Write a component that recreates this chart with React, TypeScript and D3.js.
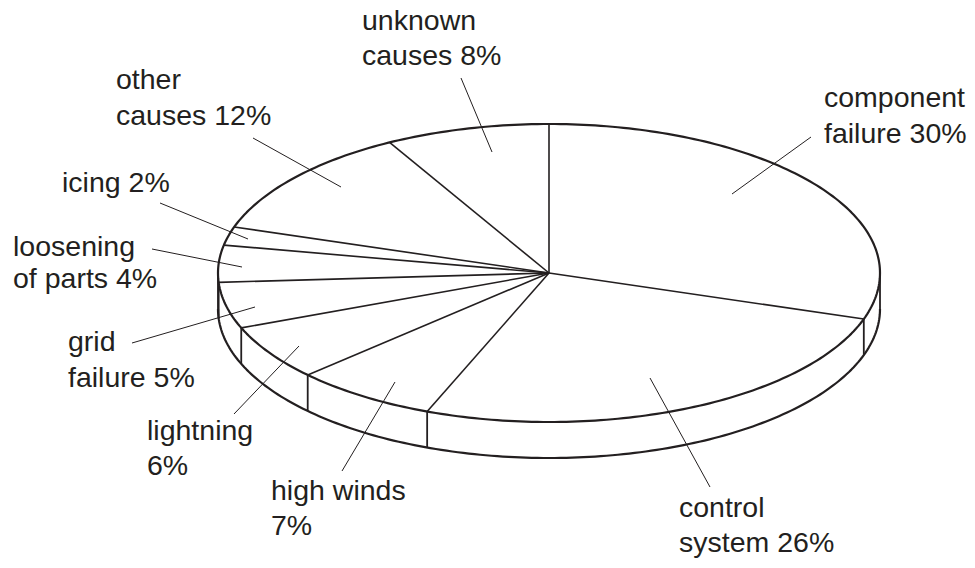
import React from "react";
import * as d3 from "d3";

// failure causes, clockwise from 12 o'clock
const causes = [
  "component failure",
  "control system",
  "high winds",
  "lightning",
  "grid failure",
  "loosening of parts",
  "icing",
  "other causes",
  "unknown causes",
];
const shares = [30, 26, 7, 6, 5, 4, 2, 12, 8];
const labelLines = [
  ["component", "failure 30%"],
  ["control", "system 26%"],
  ["high winds", "7%"],
  ["lightning", "6%"],
  ["grid", "failure 5%"],
  ["loosening", "of parts 4%"],
  ["icing 2%"],
  ["other", "causes 12%"],
  ["unknown", "causes 8%"],
];

// label layout: text x, baselines, leader line [x1, y1, x2, y2]
const labelLayout = [
  { x: 824, ys: [107, 143], leader: [811, 137, 732, 194] },
  { x: 679, ys: [517, 552], leader: [710, 487, 650, 378] },
  { x: 271, ys: [500, 535], leader: [342, 471, 395, 382] },
  { x: 147, ys: [440, 475], leader: [234, 414, 299, 346] },
  { x: 68, ys: [351, 387], leader: [132, 343, 255, 307] },
  { x: 13, ys: [256, 288], leader: [152, 249, 242, 267] },
  { x: 62, ys: [192], leader: [160, 203, 248, 239] },
  { x: 116, ys: [89, 125], leader: [253, 138, 341, 187] },
  { x: 362, ys: [30, 65], leader: [461, 78, 492, 152] },
];

const W = 975;
const H = 568;
const ink = "#231f20";

export default function App() {
  const cx = 549;
  const cy = 273;
  const rx = 331;
  const ry = 149;
  const depth = 36;

  const px = (a: number) => cx + rx * Math.sin(a);
  const py = (a: number) => cy - ry * Math.cos(a);

  const arcs = d3
    .pie<number>()
    .sort(null)
    .startAngle(0)
    .endAngle(2 * Math.PI)(shares);

  const boundaries = arcs.map((a) => a.startAngle);

  const line = d3
    .line<number>()
    .x((a) => px(a))
    .y((a) => py(a))
    .curve(d3.curveLinear);

  const full = d3.range(0, 361).map((d) => (d * Math.PI) / 180);
  const lower = d3.range(90, 271).map((d) => (d * Math.PI) / 180);
  const lowerLine = d3
    .line<number>()
    .x((a) => px(a))
    .y((a) => py(a) + depth);

  // vertical wall edges: extremes plus slice boundaries on the visible front
  const wallAngles = [
    Math.PI / 2,
    (3 * Math.PI) / 2,
    ...boundaries.filter((a) => a > Math.PI / 2 && a < (3 * Math.PI) / 2),
  ];

  return (
    <svg
      width={W}
      height={H}
      style={{ position: "absolute", left: 0, top: 0, background: "#fff" }}
    >
      <g fill="none" stroke={ink} strokeLinejoin="round">
        <path d={lowerLine(lower) ?? ""} strokeWidth={2.2} />
        {wallAngles.map((a, i) => (
          <line
            key={"w" + i}
            x1={px(a)}
            y1={py(a)}
            x2={px(a)}
            y2={py(a) + depth}
            strokeWidth={1.8}
          />
        ))}
        {boundaries.map((a, i) => (
          <line
            key={"b" + i}
            x1={cx}
            y1={cy}
            x2={px(a)}
            y2={py(a)}
            strokeWidth={1.6}
          />
        ))}
        <path d={(line(full) ?? "") + "Z"} strokeWidth={2.2} />
        {labelLayout.map((l, i) => (
          <line
            key={"l" + i}
            x1={l.leader[0]}
            y1={l.leader[1]}
            x2={l.leader[2]}
            y2={l.leader[3]}
            strokeWidth={1}
          />
        ))}
      </g>
      <g
        fontFamily="'Liberation Sans', Arial, sans-serif"
        fontSize={28.5}
        fill={ink}
      >
        {labelLines.map((lines, i) =>
          lines.map((t, j) => (
            <text key={causes[i] + j} x={labelLayout[i].x} y={labelLayout[i].ys[j]}>
              {t}
            </text>
          ))
        )}
      </g>
    </svg>
  );
}
